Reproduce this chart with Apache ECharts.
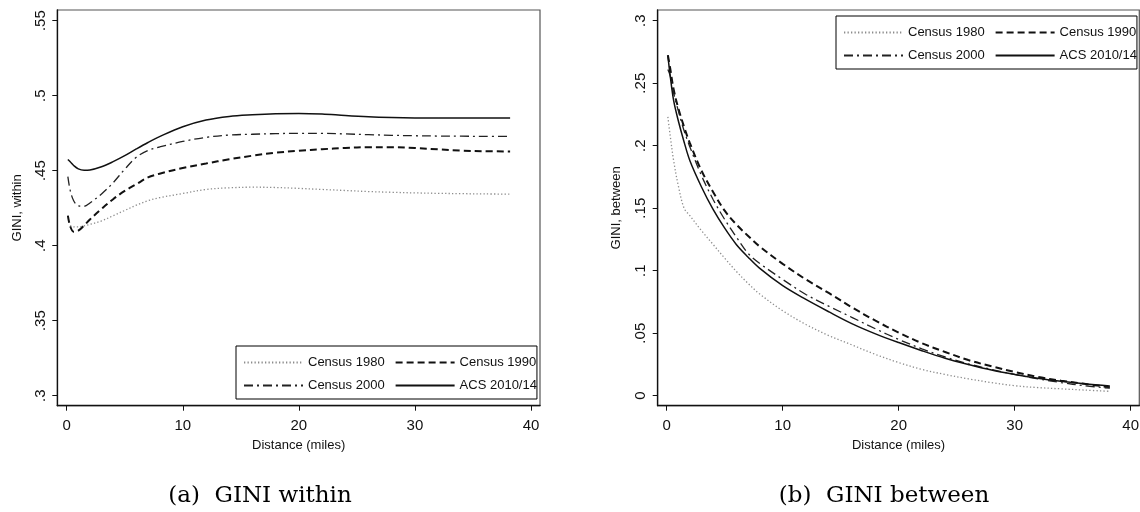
<!DOCTYPE html>
<html><head><meta charset="utf-8">
<script src="https://cdn.jsdelivr.net/npm/echarts@6/dist/echarts.min.js"></script>
<style>html,body{margin:0;padding:0;background:#fff}#c{width:1140px;height:512px}</style>
</head><body><div id="c"></div><script>
// ---- data ----
const seriesNames = ['Census 1980', 'Census 1990', 'Census 2000', 'ACS 2010/14'];
const distance = [0.1, 0.3, 0.6, 1, 1.5, 2, 3, 4, 5, 6, 7, 8, 10, 12, 14, 16, 18, 20, 22, 24, 26, 28, 30, 32, 34, 36, 38.2];

// GINI within (panel a)
const within1980 = [null, 0.4135, 0.4125, 0.4125, 0.4132, 0.4142, 0.4165, 0.4200, 0.4235, 0.4270, 0.4300, 0.4320, 0.4348, 0.4375, 0.4386, 0.4390, 0.4388, 0.4382, 0.4375, 0.4368, 0.4361, 0.4356, 0.4352, 0.4349, 0.4347, 0.4345, 0.4344];
const within1990 = [0.4200, 0.4130, 0.4093, 0.4100, 0.4135, 0.4175, 0.4245, 0.4310, 0.4365, 0.4410, 0.4455, 0.4480, 0.4518, 0.4548, 0.4576, 0.4600, 0.4620, 0.4633, 0.4643, 0.4652, 0.4657, 0.4657, 0.4651, 0.4642, 0.4634, 0.4630, 0.4628];
const within2000 = [0.4460, 0.4370, 0.4300, 0.4265, 0.4263, 0.4285, 0.4345, 0.4420, 0.4510, 0.4590, 0.4635, 0.4658, 0.4695, 0.4722, 0.4738, 0.4743, 0.4747, 0.4749, 0.4749, 0.4745, 0.4740, 0.4736, 0.4733, 0.4731, 0.4730, 0.4729, 0.4729];
const withinACS = [0.4575, 0.4560, 0.4535, 0.4512, 0.4503, 0.4505, 0.4526, 0.4560, 0.4600, 0.4645, 0.4688, 0.4727, 0.4793, 0.4838, 0.4862, 0.4873, 0.4880, 0.4882, 0.4878, 0.4868, 0.4860, 0.4855, 0.4852, 0.4851, 0.4851, 0.4851, 0.4851];

// GINI between (panel b)
const between1980 = [0.2230, 0.2080, 0.1880, 0.1680, 0.1500, 0.1440, 0.1320, 0.1210, 0.1100, 0.0995, 0.0900, 0.0815, 0.0680, 0.0570, 0.0480, 0.0405, 0.0330, 0.0265, 0.0210, 0.0170, 0.0135, 0.0105, 0.0080, 0.0065, 0.0055, 0.0045, 0.0035];
const between1990 = [0.2725, 0.2620, 0.2450, 0.2300, 0.2150, 0.2020, 0.1800, 0.1630, 0.1480, 0.1370, 0.1280, 0.1195, 0.1055, 0.0930, 0.0820, 0.0705, 0.0600, 0.0505, 0.0420, 0.0350, 0.0285, 0.0235, 0.0190, 0.0150, 0.0120, 0.0095, 0.0068];
const between2000 = [0.2610, 0.2560, 0.2420, 0.2280, 0.2120, 0.1990, 0.1760, 0.1570, 0.1410, 0.1270, 0.1140, 0.1060, 0.0930, 0.0810, 0.0715, 0.0625, 0.0535, 0.0450, 0.0375, 0.0310, 0.0255, 0.0210, 0.0170, 0.0135, 0.0105, 0.0080, 0.0060];
const betweenACS = [0.2720, 0.2560, 0.2360, 0.2200, 0.2030, 0.1880, 0.1670, 0.1490, 0.1340, 0.1210, 0.1110, 0.1020, 0.0880, 0.0770, 0.0670, 0.0575, 0.0495, 0.0425, 0.0360, 0.0300, 0.0250, 0.0205, 0.0170, 0.0140, 0.0115, 0.0095, 0.0078];

// ticks
const xTicks = [0, 10, 20, 30, 40];
const withinTickValues = [0.3, 0.35, 0.4, 0.45, 0.5, 0.55];
const withinTickLabels = ['.3', '.35', '.4', '.45', '.5', '.55'];
const betweenTickValues = [0, 0.05, 0.1, 0.15, 0.2, 0.25, 0.3];
const betweenTickLabels = ['0', '.05', '.1', '.15', '.2', '.25', '.3'];
const captions = ['(a)  GINI within', '(b)  GINI between'];

// ---- styles ----
const lineStyles = {
  'Census 1980': { color: '#8c8c8c', width: 1.3, type: [1.3, 2.2] },
  'Census 1990': { color: '#111', width: 2, type: [7, 4] },
  'Census 2000': { color: '#222', width: 1.3, type: [9, 4, 2, 4] },
  'ACS 2010/14': { color: '#111', width: 1.5, type: 'solid' }
};
const FONT = 'Liberation Sans';

function pairs(xs, ys) { return xs.map((x, i) => [x, ys[i]]); }
function mkSeries(name, ys, axisIdx) {
  const s = lineStyles[name];
  return {
    type: 'line', name: name, xAxisIndex: axisIdx, yAxisIndex: axisIdx,
    data: pairs(distance, ys), showSymbol: false, symbol: 'none', smooth: 0.35,
    connectNulls: false, animation: false,
    lineStyle: { color: s.color, width: s.width, type: s.type },
    itemStyle: { color: s.color }
  };
}
function labelFor(values, labels) {
  return function (v) {
    for (let i = 0; i < values.length; i++) if (Math.abs(values[i] - v) < 1e-9) return labels[i];
    return '';
  };
}
function mainX(gi, min, max) {
  return {
    type: 'value', gridIndex: gi, min: min, max: max,
    axisLine: { show: true, onZero: false, lineStyle: { color: '#111', width: 1.3 } }, splitLine: { show: false },
    axisTick: { show: true, length: 5, customValues: xTicks, lineStyle: { color: '#111', width: 1 } },
    axisLabel: { customValues: xTicks, margin: 13, fontSize: 15, fontFamily: FONT, color: '#111', showMinLabel: true, showMaxLabel: true },
    name: 'Distance (miles)', nameLocation: 'middle', nameGap: 21,
    nameTextStyle: { fontSize: 13, fontFamily: FONT, color: '#111' }
  };
}
function mainY(gi, min, max, values, labels, name, gap) {
  return {
    type: 'value', gridIndex: gi, min: min, max: max,
    axisLine: { show: true, onZero: false, lineStyle: { color: '#111', width: 1.3 } }, splitLine: { show: false },
    axisTick: { show: true, length: 5, customValues: values, lineStyle: { color: '#111', width: 1 } },
    axisLabel: { customValues: values, rotate: 90, margin: 9, fontSize: 15, fontFamily: FONT, color: '#111', formatter: labelFor(values, labels) },
    name: name, nameLocation: 'middle', nameGap: gap,
    nameTextStyle: { fontSize: 13, fontFamily: FONT, color: '#111' }
  };
}
function legendAt(left, top) {
  return {
    left: left, top: top, width: 300, orient: 'horizontal', selectedMode: false,
    padding: [10, 0, 7, 7], itemWidth: 59, itemHeight: 10, itemGap: 10,
    borderColor: '#000', borderWidth: 1, borderRadius: 0, backgroundColor: '#fff',
    itemStyle: { opacity: 0 },
    textStyle: { fontFamily: FONT, fontSize: 13, color: '#111' },
    data: seriesNames
  };
}

const chart = echarts.init(document.getElementById('c'), null, { renderer: 'canvas' });
chart.setOption({
  backgroundColor: '#fff',
  animation: false,
  grid: [
    { left: 57.3, top: 10, width: 482.7, height: 395.7, show: true, borderColor: '#555', borderWidth: 1.2, backgroundColor: 'transparent', outerBoundsMode: 'none' },
    { left: 657.7, top: 10, width: 481.6, height: 395.7, show: true, borderColor: '#555', borderWidth: 1.2, backgroundColor: 'transparent', outerBoundsMode: 'none' }
  ],
  xAxis: [mainX(0, -0.81, 40.775), mainX(1, -0.776, 40.741)],
  yAxis: [
    mainY(0, 0.29333, 0.55713, withinTickValues, withinTickLabels, 'GINI, within', 33),
    mainY(1, -0.008, 0.30856, betweenTickValues, betweenTickLabels, 'GINI, between', 35)
  ],
  legend: [legendAt(236, 346), legendAt(836, 16)],
  series: [
    mkSeries('Census 1980', within1980, 0),
    mkSeries('Census 1990', within1990, 0),
    mkSeries('Census 2000', within2000, 0),
    mkSeries('ACS 2010/14', withinACS, 0),
    mkSeries('Census 1980', between1980, 1),
    mkSeries('Census 1990', between1990, 1),
    mkSeries('Census 2000', between2000, 1),
    mkSeries('ACS 2010/14', betweenACS, 1)
  ],
  graphic: [
    { type: 'text', x: 260, y: 496, style: { text: captions[0], font: '23px "DejaVu Serif"', fill: '#000', textAlign: 'center', textVerticalAlign: 'middle' } },
    { type: 'text', x: 884, y: 496, style: { text: captions[1], font: '23px "DejaVu Serif"', fill: '#000', textAlign: 'center', textVerticalAlign: 'middle' } }
  ]
});
</script></body></html>
